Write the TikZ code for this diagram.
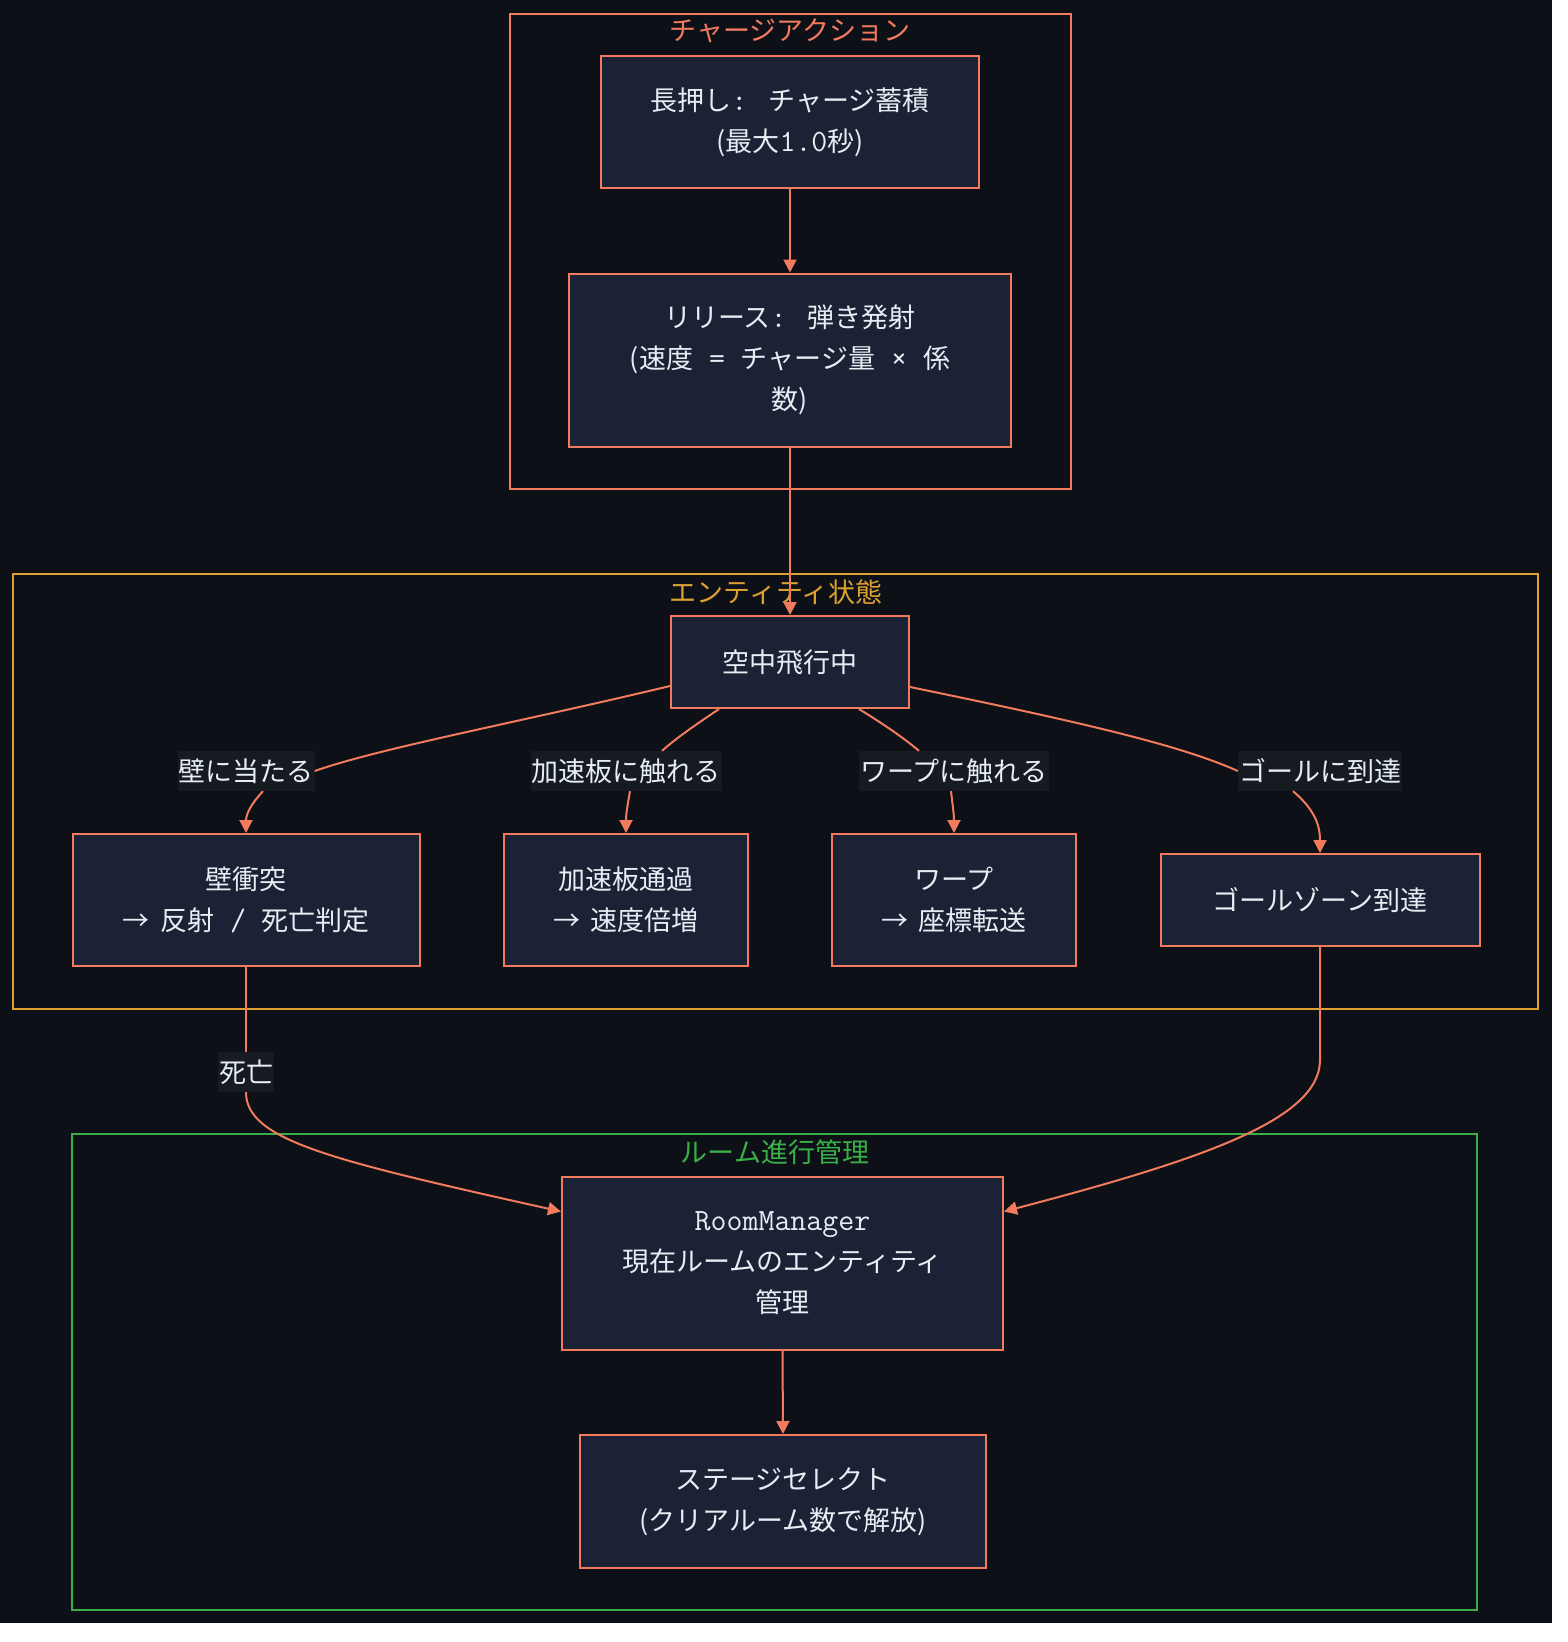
\documentclass[tikz,border=0pt]{standalone}
\usepackage{fontspec}
\setmainfont{Noto Sans CJK JP}
\usetikzlibrary{arrows.meta}

\definecolor{pagebg}{HTML}{0D1117}
\definecolor{nodefill}{HTML}{1B2235}
\definecolor{linecol}{HTML}{F27B5E}
\definecolor{goldcol}{HTML}{DDA130}
\definecolor{greencol}{HTML}{3BAF47}
\definecolor{labelbg}{HTML}{161B22}
\definecolor{txt}{HTML}{E6EDF3}

\newcommand{\nfont}{\fontsize{27pt}{41pt}\selectfont}
\newcommand{\mono}[1]{{\fontsize{31pt}{41pt}\selectfont\ttfamily #1}}
\newcommand{\arr}{→\hspace{11pt}}

\begin{document}
\begin{tikzpicture}[
    x=1pt, y=-1pt,
    box/.style={rectangle, draw=linecol, line width=2pt, fill=nodefill, text=txt, align=center, font=\nfont, inner sep=0pt},
    elabel/.style={rectangle, fill=labelbg, text=txt, font=\nfont, inner xsep=1pt, inner ysep=0pt, minimum height=40pt},
    ctitle/.style={font=\nfont, inner sep=0pt},
    cluster/.style={line width=2pt},
    link/.style={draw=linecol, line width=2pt},
    flow/.style={link, -{Triangle[length=13pt,width=13pt]}}
  ]
    \useasboundingbox (0,0) rectangle (1568,1642);
    \fill[white] (0,0) rectangle (1568,1642);
    \fill[pagebg] (0,0) rectangle (1552,1623);

    % Clusters
    \draw[cluster, draw=linecol] (510,13.5) rectangle (1071,489);
    \node[ctitle, text=linecol] (chargetitle) at (790,31) {チャージアクション};
    \draw[cluster, draw=goldcol] (13,574) rectangle (1538,1008.5);
    \node[ctitle, text=goldcol] (entitytitle) at (776,592) {エンティティ状態};
    \draw[cluster, draw=greencol] (72,1134) rectangle (1477,1610);
    \node[ctitle, text=greencol] (roomtitle) at (775,1152) {ルーム進行管理};

    % Charge
    \node[box, minimum width=378pt, minimum height=132pt] (hold) at (790,122) {長押し\mono{: }チャージ蓄積\\(最大\mono{1.0}秒)};
    \node[box, minimum width=442pt, minimum height=173pt] (release) at (790,360) {リリース\mono{: }弾き発射\\(速度\mono{ = }チャージ量\mono{ × }係\\数)};

    % Entity states
    \node[box, minimum width=238pt, minimum height=92pt] (fly) at (790,662) {空中飛行中};
    \node[box, minimum width=347pt, minimum height=132pt] (wall) at (246,900) {壁衝突\\\arr 反射\mono{ / }死亡判定};
    \node[box, minimum width=244pt, minimum height=132pt] (boost) at (626,900) {加速板通過\\\arr 速度倍増};
    \node[box, minimum width=244pt, minimum height=132pt] (warp) at (954,900) {ワープ\\\arr 座標転送};
    \node[box, minimum width=319pt, minimum height=92pt] (goal) at (1320,900) {ゴールゾーン到達};

    % Room progress
    \node[box, minimum width=441pt, minimum height=173pt] (room) at (782.5,1263.5) {\mono{RoomManager}\\現在ルームのエンティティ\\管理};
    \node[box, minimum width=406pt, minimum height=133pt] (stage) at (783,1501.5) {ステージセレクト\\(クリアルーム数で解放)};

    % Edge labels
    \node[elabel] (wallhit) at (246,771) {壁に当たる};
    \node[elabel] (boosttouch) at (626,771) {加速板に触れる};
    \node[elabel] (warptouch) at (954,771) {ワープに触れる};
    \node[elabel] (goalreach) at (1320,771) {ゴールに到達};
    \node[elabel] (death) at (246,1072) {死亡};

    % Edges
    \draw[flow] (hold.south) -- (release.north);
    \draw[flow] (release.south) -- (fly.north);

    \draw[link] ([yshift=-24pt]fly.west) .. controls (520,722) and (380,748) .. (wallhit.east);
    \draw[flow] ([xshift=17pt]wallhit.south) .. controls (250,805) and (246,815) .. (wall.north);
    \draw[link] ([xshift=-71pt]fly.south) .. controls (700,722) and (680,735) .. ([xshift=36pt]boosttouch.north);
    \draw[flow] ([xshift=4pt]boosttouch.south) .. controls (627,808) and (626,815) .. (boost.north);
    \draw[link] ([xshift=69pt]fly.south) .. controls (880,722) and (900,735) .. ([xshift=-35pt]warptouch.north);
    \draw[flow] ([xshift=-3pt]warptouch.south) .. controls (953,808) and (954,815) .. (warp.north);
    \draw[link] ([yshift=-25pt]fly.east) .. controls (1080,722) and (1180,745) .. (goalreach.west);
    \draw[flow] ([xshift=-27pt]goalreach.south) .. controls (1318,812) and (1320,830) .. (goal.north);

    \draw[link] (wall.south) -- (death.north);
    \draw[flow] (death.south) .. controls (246,1140) and (330,1160) .. ([yshift=52pt]room.west);
    \draw[flow] (goal.south) -- (1320,1060) .. controls (1320,1120) and (1200,1160) .. ([yshift=52pt]room.east);
    \draw[flow] (room.south) -- (stage.north);
  \end{tikzpicture}
\end{document}
